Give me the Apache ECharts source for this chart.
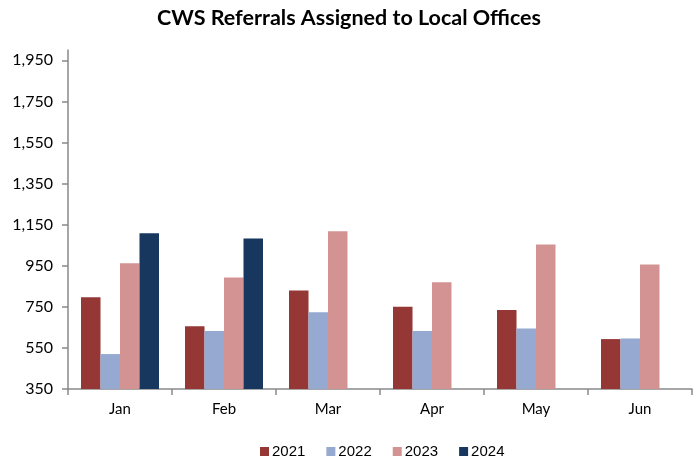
<!DOCTYPE html>
<html><head><meta charset="utf-8">
<script src="https://cdn.jsdelivr.net/npm/echarts@6/dist/echarts.min.js"></script>
<style>html,body{margin:0;padding:0;background:#fff}#c{width:698px;height:466px}</style>
</head><body><div id="c"></div>
<script>
const categories = ['Jan', 'Feb', 'Mar', 'Apr', 'May', 'Jun'];
const seriesNames = ['2021', '2022', '2023', '2024'];
const v2021 = [796, 656, 830, 750, 735, 593];
const v2022 = [520, 632, 724, 632, 645, 596];
const v2023 = [962, 893, 1118, 870, 1053, 956];
const v2024 = [1108, 1082, null, null, null, null];
const yTicks = [350, 550, 750, 950, 1150, 1350, 1550, 1750, 1950];
const colors = ['#953735', '#95A9D1', '#D39393', '#17375E'];

const chart = echarts.init(document.getElementById('c'));
const data = [v2021, v2022, v2023, v2024];
chart.setOption({
  animation: false,
  title: {
    text: 'CWS Referrals Assigned to Local Offices',
    left: 'center', top: 2,
    textStyle: { fontFamily: 'Lato', fontWeight: 'bold', fontSize: 21.5, color: '#000' }
  },
  legend: {
    data: seriesNames, left: 255, top: 439,
    itemWidth: 9, itemHeight: 9, itemGap: 21, icon: 'rect',
    textStyle: { fontFamily: 'Liberation Sans', fontSize: 15, color: '#000', padding: [0,0,0,-2] }
  },
  grid: { left: 68, right: 6, top: 50, bottom: 77, containLabel: false },
  xAxis: {
    type: 'category', data: categories,
    axisLine: { lineStyle: { color: '#898989', width: 1.5 } },
    axisTick: { show: true, length: 6, lineStyle: { color: '#898989', width: 1.5 } },
    axisLabel: { fontFamily: 'Lato', fontSize: 15, color: '#000', margin: 13 }
  },
  yAxis: {
    type: 'value', min: 350, max: 2000,
    axisLine: { show: true, lineStyle: { color: '#898989', width: 1.5 } },
    axisTick: { show: true, length: 6, customValues: yTicks, lineStyle: { color: '#898989', width: 1.5 } },
    splitLine: { show: false },
    axisLabel: {
      customValues: yTicks, fontFamily: 'Lato', fontSize: 16, color: '#000', margin: 15,
      formatter: v => v.toLocaleString('en-US')
    }
  },
  series: seriesNames.map((n, i) => ({
    name: n, type: 'bar', data: data[i],
    barGap: '0%', barCategoryGap: '25%',
    itemStyle: { color: colors[i] }
  }))
});
</script></body></html>
